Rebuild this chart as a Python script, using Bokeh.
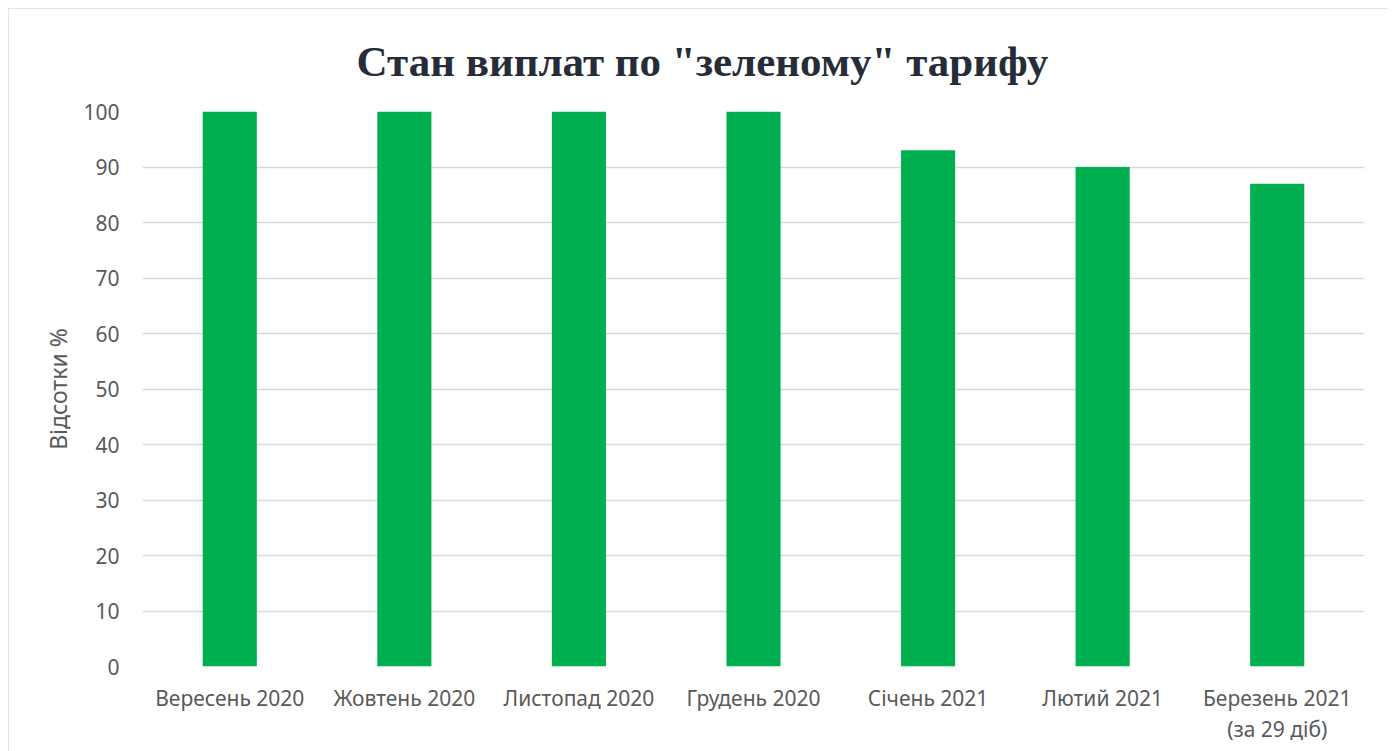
from bokeh.plotting import figure
from bokeh.models import Range1d, FactorRange, SingleIntervalTicker, Spacer
from bokeh.layouts import column, row
from bokeh.embed import file_html
from bokeh.resources import INLINE

categories = ["Вересень 2020", "Жовтень 2020", "Листопад 2020", "Грудень 2020",
              "Січень 2021", "Лютий 2021", "Березень 2021\n(за 29 діб)"]
values = [100, 100, 100, 100, 93, 90, 87]
title_text = 'Стан виплат по "зеленому" тарифу'
y_label = "Відсотки %"

p = figure(width=1380, height=743, x_range=FactorRange(*categories, range_padding=0),
           y_range=Range1d(0, 100), output_backend="svg", toolbar_location=None,
           title=title_text, min_border_left=134, min_border_right=24,
           min_border_top=103, min_border_bottom=85,
           styles={"outline": "2px solid #D9D9D9", "outline-offset": "-2px"})

p.vbar(x=categories, top=values, width=0.31, color="#00B050", line_color=None)

p.title.align = "left"
p.title.offset = 214
p.title.text_font = "Liberation Serif"
p.title.text_font_style = "bold"
p.title.text_font_size = "43px"
p.title.text_color = "#262D39"
p.title.standoff = 53

p.outline_line_color = None
p.border_fill_color = "white"
p.background_fill_color = "white"

p.xgrid.grid_line_color = None
p.ygrid.grid_line_color = "#D9D9D9"
p.ygrid.grid_line_width = 1.5
p.yaxis.ticker = SingleIntervalTicker(interval=10)

for ax in (p.xaxis, p.yaxis):
    ax.axis_line_color = None
    ax.major_tick_line_color = None
    ax.minor_tick_line_color = None
    ax.major_tick_out = 0
    ax.major_tick_in = 0
    ax.minor_tick_out = 0
    ax.minor_tick_in = 0
    ax.major_label_text_font = "Noto Sans"
    ax.major_label_text_font_size = "21px"
    ax.major_label_text_color = "#595959"

p.xaxis.major_label_text_line_height = 1.12
p.yaxis.major_label_standoff = 23
p.xaxis.major_label_standoff = 17
p.yaxis.axis_label = y_label
p.yaxis.axis_label_text_font = "Noto Sans"
p.yaxis.axis_label_text_font_size = "23px"
p.yaxis.axis_label_text_font_style = "normal"
p.yaxis.axis_label_text_color = "#595959"
p.yaxis.axis_label_standoff = 6

layout = column(Spacer(height=8), row(Spacer(width=8), p))

open("out.html", "w").write(file_html(layout, INLINE))
